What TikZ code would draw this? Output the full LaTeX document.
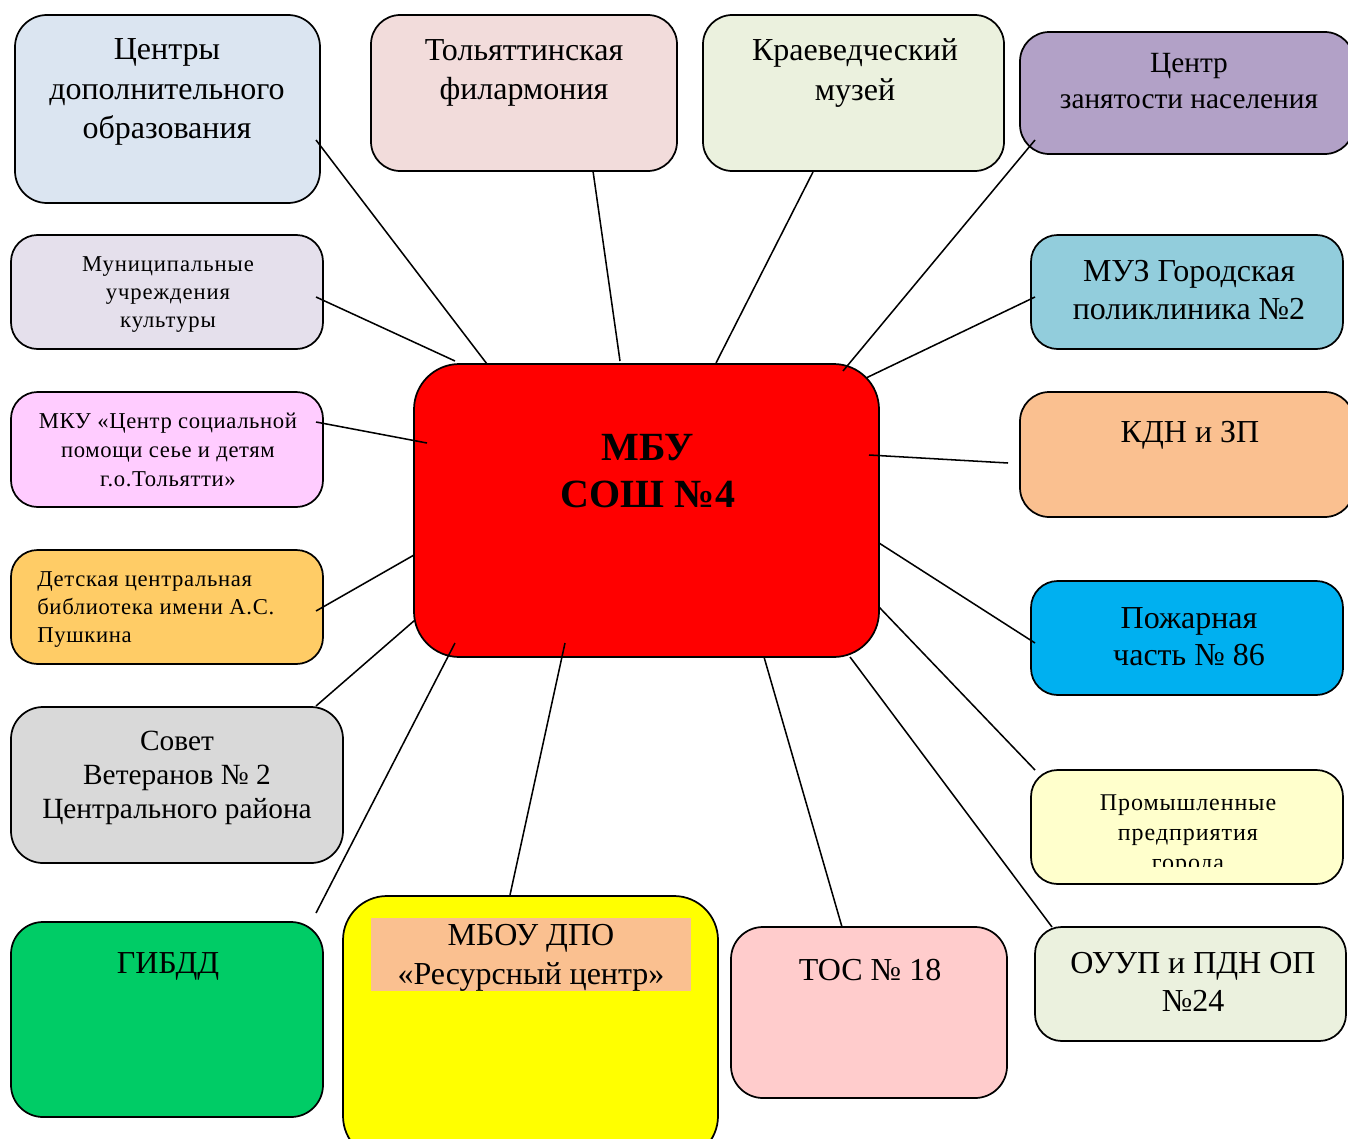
\documentclass[tikz,border=0pt]{standalone}
\usepackage{fontspec}
\setmainfont{Liberation Serif}
\definecolor{cdoc}{HTML}{DBE5F1}
\definecolor{philc}{HTML}{F2DCDB}
\definecolor{muzc}{HTML}{EBF1DE}
\definecolor{cznc}{HTML}{B2A1C7}
\definecolor{mukc}{HTML}{E5E0EC}
\definecolor{polic}{HTML}{92CDDC}
\definecolor{mkuc}{HTML}{FFCCFF}
\definecolor{kdnc}{HTML}{FAC090}
\definecolor{libc}{HTML}{FFCC66}
\definecolor{firec}{HTML}{00B0F0}
\definecolor{vetc}{HTML}{D9D9D9}
\definecolor{promc}{HTML}{FFFFCC}
\definecolor{gibc}{HTML}{00CC66}
\definecolor{mbouc}{HTML}{FFFF00}
\definecolor{tosc}{HTML}{FFCCCC}
\definecolor{ouupc}{HTML}{EBF1DE}
\definecolor{mainc}{HTML}{FF0000}
\begin{document}
\begin{tikzpicture}[x=0.75pt,y=-0.75pt,
  box/.style={draw=black,line width=1.3pt,inner sep=0pt},
  txt/.style={align=center,inner sep=0pt,font=\fontsize{24}{29.5}\selectfont},
  sml/.style={align=center,inner sep=0pt,font=\fontsize{17}{21}\selectfont\addfontfeatures{LetterSpace=4}},
  link/.style={line width=1.15pt}]
\clip (0,0) rectangle (1348,1138);
% boxes
\node[box,rounded corners=24pt,fill=cdoc,minimum width=228.75pt,minimum height=141pt] (cdo) at (167.5,109) {};
\node[box,rounded corners=22pt,fill=philc,minimum width=229.5pt,minimum height=117pt] (phil) at (524,93) {};
\node[box,rounded corners=22pt,fill=muzc,minimum width=225.75pt,minimum height=117pt] (muz) at (853.5,93) {};
\node[box,rounded corners=22pt,fill=cznc,minimum width=250.5pt,minimum height=91.5pt] (czn) at (1187,93) {};
\node[box,rounded corners=20pt,fill=mukc,minimum width=234pt,minimum height=85.5pt] (muk) at (167,292) {};
\node[box,rounded corners=20pt,fill=polic,minimum width=234pt,minimum height=85.5pt] (poli) at (1187,292) {};
\node[box,rounded corners=20pt,fill=mkuc,minimum width=234pt,minimum height=86.25pt] (mku) at (167,449.5) {};
\node[box,rounded corners=22pt,fill=kdnc,minimum width=250.5pt,minimum height=93.75pt] (kdn) at (1187,454.5) {};
\node[box,rounded corners=20pt,fill=libc,minimum width=234pt,minimum height=85.5pt] (lib) at (167,607) {};
\node[box,rounded corners=20pt,fill=firec,minimum width=234pt,minimum height=85.5pt] (fire) at (1187,638) {};
\node[box,rounded corners=24pt,fill=vetc,minimum width=249pt,minimum height=117pt] (vet) at (177,785) {};
\node[box,rounded corners=20pt,fill=promc,minimum width=234pt,minimum height=85.5pt] (prom) at (1187,827) {};
\node[box,rounded corners=24pt,fill=gibc,minimum width=234pt,minimum height=146.25pt] (gib) at (167,1019.5) {};
\node[box,rounded corners=33pt,fill=mbouc,minimum width=281.25pt,minimum height=198pt] (mbou) at (530.5,1028) {};
\node[box,rounded corners=24pt,fill=tosc,minimum width=207pt,minimum height=128.25pt] (tos) at (869,1012.5) {};
\node[box,rounded corners=20pt,fill=ouupc,minimum width=233.25pt,minimum height=85.5pt] (ouup) at (1190.5,984) {};
\node[box,rounded corners=34pt,fill=mainc,minimum width=348.75pt,minimum height=219.75pt] (main) at (646.5,510.5) {};
% connectors
\draw[link] ([shift={(148.5,31)}]cdo.center) -- ([shift={(-159.5,-146.5)}]main.center);
\draw[link] ([shift={(149,5)}]muk.center) -- ([shift={(-191.5,-149.5)}]main.center);
\draw[link] ([shift={(69,78)}]phil.center) -- ([shift={(-26.5,-149.5)}]main.center);
\draw[link] ([shift={(-40.5,79)}]muz.center) -- ([shift={(69.5,-147.5)}]main.center);
\draw[link] ([shift={(-152,47)}]czn.center) -- ([shift={(196.5,-139.5)}]main.center);
\draw[link] ([shift={(-152,5)}]poli.center) -- ([shift={(219.5,-132.5)}]main.center);
\draw[link] ([shift={(149,-27.5)}]mku.center) -- ([shift={(-219.5,-67.5)}]main.center);
\draw[link] ([shift={(-179,8.5)}]kdn.center) -- ([shift={(222.5,-55.5)}]main.center);
\draw[link] ([shift={(149,4)}]lib.center) -- ([shift={(-232.5,44.5)}]main.center);
\draw[link] ([shift={(-152,5)}]fire.center) -- ([shift={(232.5,32.5)}]main.center);
\draw[link] ([shift={(139,-79)}]vet.center) -- ([shift={(-231.5,109.5)}]main.center);
\draw[link] ([shift={(-152,-57)}]prom.center) -- ([shift={(232.5,96.5)}]main.center);
\draw[link] ([shift={(149,-106.5)}]gib.center) -- ([shift={(-191.5,132.5)}]main.center);
\draw[link] ([shift={(-20.5,-133)}]mbou.center) -- ([shift={(-81.5,132.5)}]main.center);
\draw[link] ([shift={(-27,-85.5)}]tos.center) -- ([shift={(117.5,146.5)}]main.center);
\draw[link] ([shift={(-138.5,-57)}]ouup.center) -- ([shift={(203.5,146.5)}]main.center);
% texts
\node[txt] (cdot) at (167,92) {Центры\\дополнительного\\образования};
\node[txt] (philt) at (524,73) {Тольяттинская\\филармония};
\node[txt] (muzt) at (855,73) {Краеведческий\\музей};
\node[txt,font=\fontsize{22}{27}\selectfont] (cznt) at (1189,81) {Центр\\занятости населения};
\node[sml] (mukt) at (168,295) {Муниципальные\\учреждения\\культуры};
\node[txt,font=\fontsize{24}{28}\selectfont] (polit) at (1189,290) {МУЗ Городская\\поликлиника №2};
\node[sml,font=\fontsize{17}{21.5}\selectfont\addfontfeatures{LetterSpace=2.8}] (mkut) at (168,450) {МКУ «Центр социальной\\помощи сеье и детям\\г.о.Тольятти»};
\node[txt] (kdnt) at (1190,435) {КДН и ЗП};
\node[sml,align=left,anchor=west,font=\fontsize{17}{21}\selectfont\addfontfeatures{LetterSpace=3}] (libt) at (37,610) {Детская центральная\\библиотека имени А.С.\\Пушкина};
\node[txt,font=\fontsize{24}{28}\selectfont] (firet) at (1189,637) {Пожарная\\часть № 86};
\node[txt,font=\fontsize{22}{25.5}\selectfont] (vett) at (177,778) {Совет\\Ветеранов № 2\\Центрального района};
\begin{scope}
\clip (1031,770) rectangle (1343,866);
\node[sml,font=\fontsize{18}{22.5}\selectfont\addfontfeatures{LetterSpace=4}] (promt) at (1188,835) {Промышленные\\предприятия\\города};
\end{scope}
\node[txt] (gibt) at (168,966) {ГИБДД};
\node[txt,fill=kdnc,minimum width=240pt,minimum height=54.75pt] (mbout) at (531,954.5) {};
\node[txt] (mbout2) at (531,958) {МБОУ ДПО\\«Ресурсный центр»};
\node[txt] (tost) at (870,970) {ТОС № 18};
\node[txt,font=\fontsize{24}{28}\selectfont] (ouupt) at (1193,982) {ОУУП и ПДН ОП\\№24};
\node[txt,font=\bfseries\fontsize{30}{35}\selectfont] (maint) at (648,471) {МБУ\\СОШ №4};
\end{tikzpicture}
\end{document}
